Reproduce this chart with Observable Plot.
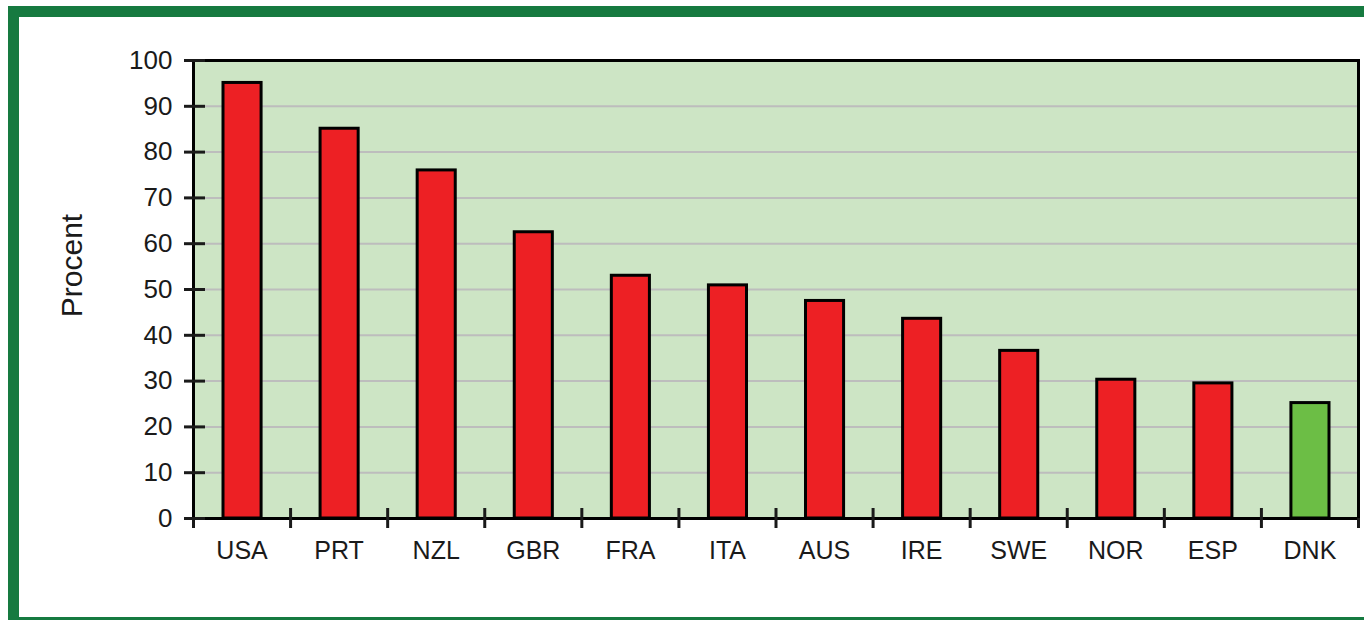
<!DOCTYPE html>
<html>
<head>
<meta charset="utf-8">
<script src="https://cdn.jsdelivr.net/npm/d3@7"></script>
<script src="https://cdn.jsdelivr.net/npm/@observablehq/plot@0.6"></script>
<style>
  html, body { margin: 0; padding: 0; background: #fff; overflow: hidden; }
  #wrap { position: relative; width: 1364px; height: 620px; }
  #border { position: absolute; left: 8px; top: 6px; width: 1400px; height: 600px; border: 11px solid #167a40; pointer-events: none; }
  #chart svg { display: block; }
</style>
</head>
<body>
<div id="wrap">
  <div id="chart"></div>
  <div id="border"></div>
</div>
<script>
const countries = ["USA", "PRT", "NZL", "GBR", "FRA", "ITA", "AUS", "IRE", "SWE", "NOR", "ESP", "DNK"];
const values = [95.1, 85.1, 76.0, 62.5, 53.0, 50.9, 47.5, 43.6, 36.6, 30.3, 29.5, 25.2];
const highlighted = ["DNK"];
const yTicks = [0, 10, 20, 30, 40, 50, 60, 70, 80, 90, 100];
const yLabel = "Procent";

const data = countries.map((c, i) => ({ country: c, i, value: values[i], hi: highlighted.includes(c) }));
const edges = d3.range(countries.length + 1);
const innerEdges = edges.slice(1, -1);
const centers = countries.map((c, i) => i + 0.5);

const chart = Plot.plot({
  width: 1364,
  height: 620,
  marginLeft: 193,
  marginRight: 6,
  marginTop: 60,
  marginBottom: 102,
  style: { fontFamily: "Arial, 'Liberation Sans', sans-serif", fontSize: "20px", color: "#1a1a1a", background: "transparent" },
  x: { domain: [0, countries.length], axis: null },
  y: { domain: [0, 100], axis: null },
  marks: [
    Plot.frame({ fill: "#cde5c5" }),
    Plot.gridY(yTicks.filter(t => t > 0 && t < 100), { stroke: "#bdbdbd", strokeOpacity: 1, strokeWidth: 2 }),
    Plot.rectY(data, {
      x1: "i", x2: d => d.i + 1, y1: 0, y2: "value",
      insetLeft: 30, insetRight: 29,
      fill: d => d.hi ? "#6cbe45" : "#ed2024",
      stroke: "#000", strokeWidth: 3
    }),
    Plot.frame({ stroke: "#000", strokeWidth: 3 }),
    Plot.axisY({ ticks: yTicks, tickSize: 9, tickPadding: 12, strokeWidth: 3, label: null, fontSize: 26 }),
    Plot.axisY({ ticks: yTicks, tickSize: -12, tickFormat: () => "", strokeWidth: 3, label: null }),
    Plot.axisX({ ticks: edges, tickSize: 10, tickFormat: () => "", strokeWidth: 3, label: null }),
    Plot.axisX({ ticks: innerEdges, tickSize: -10, tickFormat: () => "", strokeWidth: 3, label: null }),
    Plot.axisX({ ticks: centers, tickSize: 0, tickPadding: 23, tickFormat: t => countries[Math.floor(t)], label: null, fontSize: 25 }),
    Plot.text([yLabel], { text: d => d, frameAnchor: "left", textAnchor: "middle", rotate: -90, dx: -121, dy: -24, fontSize: 30, fill: "#1a1a1a" })
  ]
});
document.getElementById("chart").appendChild(chart);
</script>
</body>
</html>
